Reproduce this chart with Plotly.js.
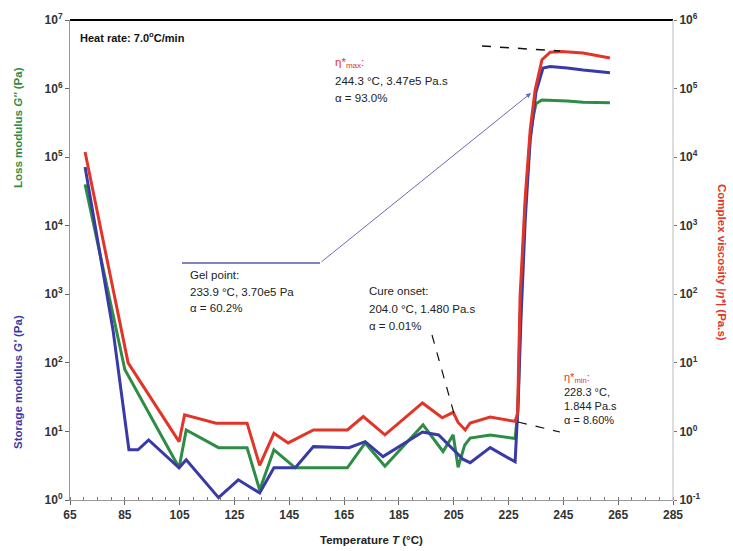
<!DOCTYPE html>
<html>
<head>
<meta charset="utf-8">
<script src="https://cdn.plot.ly/plotly-3.0.1.min.js"></script>
<style>html,body{margin:0;padding:0;background:#fff;}#chart{width:733px;height:551px;}</style>
</head>
<body>
<div id="chart"></div>
<script>
// ---- Data ----
const xTickVals = [65, 85, 105, 125, 145, 165, 185, 205, 225, 245, 265, 285];
const leftDecades = [0, 1, 2, 3, 4, 5, 6, 7];      // exponents of left axis labels
const rightDecades = [-1, 0, 1, 2, 3, 4, 5, 6];    // exponents of right axis labels

// Storage modulus G' (Pa) - left axis
const tempStorage = [70.5, 80.7, 86.5, 89.8, 93.7, 104.8, 107.4, 119.2, 126.4, 134.2, 139.4, 147.2, 153.8, 166.8, 172.7, 179.2, 193.6, 199.5, 208.5, 211.0, 218.3, 227.4, 228.6, 229.5, 231.1, 232.9, 233.9, 235.0, 237.6, 240.2, 246.4, 252.2, 262.0];
const storageModulus = [72000, 300, 5.4, 5.4, 7.5, 2.95, 3.85, 1.08, 1.97, 1.27, 2.95, 2.95, 6.0, 5.8, 7.1, 4.3, 9.8, 8.9, 3.9, 3.5, 5.8, 3.6, 32, 400, 12600, 178000, 370000, 890000, 2000000, 2100000, 2000000, 1860000, 1700000];

// Loss modulus G'' (Pa) - left axis
const tempLoss = [70.5, 85.0, 104.8, 107.4, 119.2, 129.6, 134.2, 139.4, 147.2, 166.2, 172.7, 179.9, 193.8, 201.1, 204.8, 206.6, 209.0, 211.0, 218.3, 227.4, 228.4, 229.4, 231.1, 232.9, 233.9, 235.0, 237.2, 246.4, 252.2, 262.0];
const lossModulus = [40000, 80, 2.95, 10.5, 5.8, 5.8, 1.4, 5.4, 2.95, 2.95, 6.8, 3.1, 12.5, 5.1, 8.9, 3.0, 6.3, 8.0, 8.9, 7.9, 20, 800, 20000, 200000, 370000, 600000, 680000, 660000, 630000, 620000];

// Complex viscosity |eta*| (Pa.s) - right axis
const tempViscosity = [70.5, 86.2, 104.8, 106.8, 118.3, 129.6, 134.2, 139.4, 144.6, 153.8, 166.2, 172.0, 179.9, 193.6, 200.8, 204.8, 206.6, 209.2, 211.0, 218.3, 227.4, 228.3, 229.2, 231.1, 232.9, 234.7, 237.2, 240.2, 244.3, 252.2, 262.0];
const complexViscosity = [11900, 10, 0.71, 1.75, 1.32, 1.32, 0.32, 0.94, 0.68, 1.05, 1.05, 1.65, 0.89, 2.6, 1.58, 1.9, 1.35, 1.05, 1.33, 1.62, 1.4, 1.844, 91, 2630, 25000, 95000, 263000, 340000, 347000, 330000, 280000];

// ---- Layout helpers (pixel -> paper) ----
const PL = 70, PR = 673, PT = 20, PB = 500;
const px = x => (x - PL) / (PR - PL);
const py = y => (PB - y) / (PB - PT);

const RED = '#e2352a', BLUE = '#3a3aa6', GREEN = '#2e8c44';
const FONT = 'Liberation Sans, Arial, sans-serif';

function majorTicks(decades) {
  return {vals: decades.map(d => Math.pow(10, d)), text: decades.map(d => '10<sup>' + d + '</sup>')};
}
function minorTicks(decades) {
  const vals = [];
  for (let i = 0; i < decades.length - 1; i++)
    for (let m = 2; m <= 9; m++) vals.push(m * Math.pow(10, decades[i]));
  return vals;
}
const lMaj = majorTicks(leftDecades), rMaj = majorTicks(rightDecades);

const traces = [
  {x: tempLoss, y: lossModulus, type: 'scatter', mode: 'lines', name: "G''",
   line: {color: GREEN, width: 3}, yaxis: 'y'},
  {x: tempStorage, y: storageModulus, type: 'scatter', mode: 'lines', name: "G'",
   line: {color: BLUE, width: 3}, yaxis: 'y'},
  {x: tempViscosity, y: complexViscosity, type: 'scatter', mode: 'lines', name: '|η*|',
   line: {color: RED, width: 3}, yaxis: 'y2'}
];

function txt(x, y, text, opts) {
  return Object.assign({xref: 'paper', yref: 'paper', x: px(x), y: py(y), text: text,
    showarrow: false, xanchor: 'left', yanchor: 'middle', align: 'left',
    font: {family: FONT, size: 11.5, color: '#222'}}, opts || {});
}

const annotations = [
  txt(78, 37, '<b>Heat rate: 7.0<sup>o</sup>C/min</b>', {font: {family: FONT, size: 11, color: '#111'}}),
  txt(333, 63, 'η*<sub>max</sub>:', {font: {family: FONT, size: 11.5, color: RED}}),
  txt(333, 81, '244.3 °C, 3.47e5 Pa.s'),
  txt(333, 98, 'α = 93.0%'),
  txt(188, 275, 'Gel point:'),
  txt(188, 292, '233.9 °C, 3.70e5 Pa'),
  txt(188, 308, 'α = 60.2%'),
  txt(367, 291, 'Cure onset:'),
  txt(367, 309, '204.0 °C, 1.480 Pa.s'),
  txt(367, 326, 'α = 0.01%'),
  txt(562, 378, 'η*<sub>min</sub>:', {font: {family: FONT, size: 11, color: RED}}),
  txt(562, 392, '228.3 °C,', {font: {family: FONT, size: 11, color: '#222'}}),
  txt(562, 406, '1.844 Pa.s', {font: {family: FONT, size: 11, color: '#222'}}),
  txt(562, 420, 'α = 8.60%', {font: {family: FONT, size: 11, color: '#222'}}),
  // axis titles
  {xref: 'paper', yref: 'paper', x: px(18), y: py(128), text: "<b>Loss modulus <i>G''</i> (Pa)</b>",
   textangle: -90, showarrow: false, xanchor: 'center', yanchor: 'middle',
   font: {family: FONT, size: 11.5, color: GREEN}},
  {xref: 'paper', yref: 'paper', x: px(18), y: py(382), text: "<b>Storage modulus <i>G'</i> (Pa)</b>",
   textangle: -90, showarrow: false, xanchor: 'center', yanchor: 'middle',
   font: {family: FONT, size: 11.5, color: BLUE}},
  {xref: 'paper', yref: 'paper', x: px(722), y: py(262), text: '<b>Complex viscosity |<i>η*</i>| (Pa.s)</b>',
   textangle: 90, showarrow: false, xanchor: 'center', yanchor: 'middle',
   font: {family: FONT, size: 11.5, color: RED}},
  {xref: 'paper', yref: 'paper', x: px(371), y: py(540), text: '<b>Temperature <i>T</i> (°C)</b>',
   showarrow: false, xanchor: 'center', yanchor: 'middle',
   font: {family: FONT, size: 11.5, color: '#222'}},
  // gel point arrow head
  {xref: 'paper', yref: 'paper', x: px(531), y: py(93), ax: 320 - 531, ay: 263 - 93,
   text: '', showarrow: true, arrowhead: 2, arrowsize: 1, arrowwidth: 1, arrowcolor: '#6a6ab4'}
];

function seg(x0, y0, x1, y1, color, width, dash) {
  return {type: 'line', xref: 'paper', yref: 'paper', x0: px(x0), y0: py(y0), x1: px(x1), y1: py(y1),
    line: {color: color, width: width, dash: dash || 'solid'}};
}

const shapes = [
  seg(70, 20, 673, 20, '#000', 2),
  seg(673, 20, 673, 500, '#bbb', 1),
  seg(182, 263, 320, 263, '#5a5aa8', 1.5),
  seg(482, 46, 560, 51, '#111', 1.5, 'dash'),
  seg(432, 335, 455, 417, '#111', 1.2, 'dash'),
  seg(518, 422, 560, 432, '#111', 1.2, 'dash')
];

const tickFont = {family: FONT, size: 12, color: '#333', weight: 'bold'};
const common = {showgrid: false, zeroline: false};

const layout = {
  width: 733, height: 551,
  margin: {l: PL, r: 733 - PR, t: PT, b: 551 - PB, pad: 0},
  paper_bgcolor: '#fff', plot_bgcolor: '#fff',
  showlegend: false,
  xaxis: Object.assign({range: [65, 285], tickvals: xTickVals, ticktext: xTickVals.map(String),
    showline: true, linecolor: '#999', linewidth: 1,
    ticks: 'outside', ticklen: 4, tickcolor: '#666', tickfont: tickFont,
    minor: {ticks: 'inside', dtick: 5, tick0: 65, ticklen: 3, tickcolor: '#777'}}, common),
  yaxis: Object.assign({type: 'log', range: [0, 7], tickmode: 'array', tickvals: lMaj.vals, ticktext: lMaj.text,
    showline: true, linecolor: '#999', linewidth: 1,
    ticks: 'outside', ticklen: 4, tickcolor: '#666', tickfont: tickFont}, common),
  yaxis2: Object.assign({type: 'log', range: [-1, 6], tickmode: 'array', tickvals: rMaj.vals, ticktext: rMaj.text,
    overlaying: 'y', side: 'right', showline: false,
    ticks: 'outside', ticklen: 3, tickcolor: '#777', tickfont: tickFont}, common),
  // minor tick marks only (no labels)
  yaxis3: Object.assign({type: 'log', range: [0, 7], tickmode: 'array', tickvals: minorTicks(leftDecades),
    overlaying: 'y', side: 'left', showticklabels: false, showline: false,
    ticks: 'inside', ticklen: 3, tickcolor: '#777'}, common),
  yaxis4: Object.assign({type: 'log', range: [-1, 6], tickmode: 'array', tickvals: minorTicks(rightDecades),
    overlaying: 'y', side: 'right', showticklabels: false, showline: false,
    ticks: 'inside', ticklen: 2, tickcolor: '#888'}, common),
  annotations: annotations,
  shapes: shapes
};

Plotly.newPlot('chart', traces, layout, {displayModeBar: false, staticPlot: true});
</script>
</body>
</html>
